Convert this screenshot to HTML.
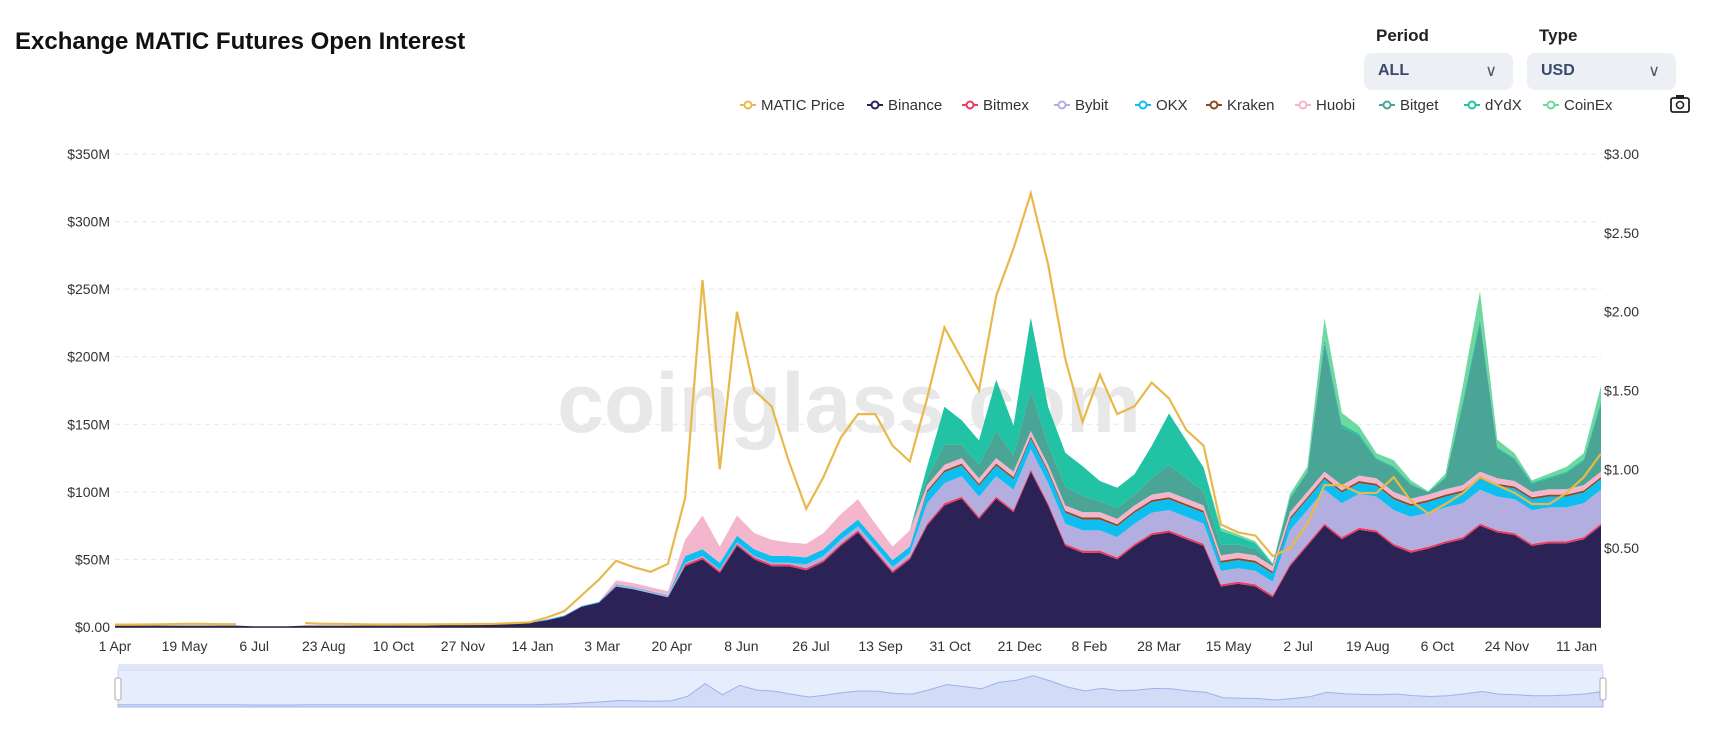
<!DOCTYPE html>
<html><head><meta charset="utf-8">
<style>
body{margin:0;width:1717px;height:756px;overflow:hidden;background:#fff;font-family:"Liberation Sans",sans-serif;position:relative}
.title{position:absolute;left:15px;top:28px;font-size:24px;font-weight:bold;color:#111}
.lbl{position:absolute;font-size:17px;font-weight:bold;color:#222}
.dd{position:absolute;top:53px;height:37px;width:149px;background:#eceff4;border-radius:8px;box-sizing:border-box;padding:9px 14px;font-size:16px;font-weight:bold;color:#3a4a6b}
.dd span{position:absolute;right:16px;top:8px;font-weight:normal;color:#555}
</style></head><body>
<div class="title">Exchange MATIC Futures Open Interest</div>
<div class="lbl" style="left:1376px;top:26px">Period</div>
<div class="lbl" style="left:1539px;top:26px">Type</div>
<div class="dd" style="left:1364px">ALL<span>∨</span></div>
<div class="dd" style="left:1527px">USD<span>∨</span></div>
<svg id="c" width="1717" height="756" style="position:absolute;left:0;top:0"></svg>
<script>
const seriesNames=["Binance","Bitmex","Bybit","OKX","Kraken","Huobi","Bitget","dYdX","CoinEx"];
const binance=[1,1,1,1,1,1,1,1,0.5,0.5,0.5,1,1,1,1,1,1,1,1,1.5,1.5,2,2,3,3,5,8,15,18,30,28,25,22,45,50,40,60,50,45,45,42,48,60,70,55,40,50,75,90,95,80,95,85,115,90,60,55,55,50,60,68,70,65,60,30,32,30,22,45,60,75,65,72,70,60,55,58,62,65,75,70,68,60,62,62,65,75];
const bitmex=[0,0,0,0,0,0,0,0,0,0,0,0,0,0,0,0,0,0,0,0,0,0,0,0,0,0,0,0,0,0,0,0,0,1.5,1.5,1.5,1.5,1.5,1.5,1.5,1.5,1.5,1.5,1.5,1.5,1.5,1.5,1.5,1.5,1.5,1.5,1.5,1.5,1.5,1.5,1.5,1.5,1.5,1.5,1.5,1.5,1.5,1.5,1.5,1.5,1.5,1.5,1.5,1.5,1.5,1.5,1.5,1.5,1.5,1.5,1.5,1.5,1.5,1.5,1.5,1.5,1.5,1.5,1.5,1.5,1.5,1.5];
const bybit=[0,0,0,0,0,0,0,0,0,0,0,0,0,0,0,0,0,0,0,0,0,0,0,0,0,0,0,0,0,1,1,1,1,1,1,1,1,1,1,1,3,3,3,3,3,3,3,15,15,15,15,15,15,15,15,15,15,15,15,15,15,15,15,15,10,10,10,10,25,25,25,25,25,25,25,25,25,25,25,25,25,25,25,25,25,25,25];
const okx=[0,0,0,0,0,0,0,0,0,0,0,0,0,0,0,0,0,0,0,0,0,0,0,0,0.5,0.5,0.5,0.5,0.5,0.5,0.5,0.5,0.5,5,5,5,5,5,5,5,5,5,5,5,5,5,5,8,8,8,8,8,8,8,8,8,8,8,8,8,8,8,8,8,6,6,6,6,8,8,8,8,8,8,8,8,8,8,8,8,8,8,8,8,8,8,8];
const kraken=[0,0,0,0,0,0,0,0,0,0,0,0,0,0,0,0,0,0,0,0,0,0,0,0,0,0,0,0,0,0,0,0,0,0,0,0,0,0,0,0,0,0,0,0,0,0,0,1.5,1.5,1.5,1.5,1.5,1.5,1.5,1.5,1.5,1.5,1.5,1.5,1.5,1.5,1.5,1.5,1.5,1.5,1.5,1.5,1.5,1.5,1.5,1.5,1.5,1.5,1.5,1.5,1.5,1.5,1.5,1.5,1.5,1.5,1.5,1.5,1.5,1.5,1.5,1.5];
const huobi=[0,0,0,0,0,0,0,0,0,0,0,0,0,0,0,0,0,0,0,0,0,0,0,0,0.2,0.2,0.2,0.2,0.2,3,3,3,3,12,25,12,15,12,12,10,10,12,14,15,12,10,12,4,4,4,4,4,4,4,4,4,4,4,4,4,4,4,4,4,4,4,4,4,4,4,4,4,4,4,4,4,4,4,4,4,4,4,4,4,4,4,4];
const bitget=[0,0,0,0,0,0,0,0,0,0,0,0,0,0,0,0,0,0,0,0,0,0,0,0,0,0,0,0,0,0,0,0,0,0,0,0,0,0,0,0,0,0,0,0,0,0,0,5,15,10,10,20,12,30,15,14,12,8,8,8,12,20,15,10,8,6,5,1,10,14,95,43,29,14,18,10,2,8,60,110,22,16,6,8,12,18,50];
const dydx=[0,0,0,0,0,0,0,0,0,0,0,0,0,0,0,0,0,0,0,0,0,0,0,0,0,0,0,0,0,0,0,0,0,0,0,0,0,0,0,0,0,0,0,0,0,0,0,8.5,28,18,18,38,22,54,28,25,22,15,15,15,24,38,28,18,10,6,4,1,1,1,3,2,2,1,1,1,0,1,2,3,1,1,1,1,1,1,2];
const coinex=[0,0,0,0,0,0,0,0,0,0,0,0,0,0,0,0,0,0,0,0,0,0,0,0,0,0,0,0,0,0,0,0,0,0,0,0,0,0,0,0,0,0,0,0,0,0,0,0,0,0,0,0,0,0,0,0,0,0,0,0,0,0,0,0,2.5,1.5,1.5,0,2.5,3.5,15.5,8.5,5.5,3.5,4.5,2.5,0.5,2.5,11.5,20.5,5.5,3.5,1.5,2.5,3.5,4.5,11.5];
const price=[0.015,0.015,0.016,0.018,0.02,0.02,0.018,0.018,null,null,null,0.025,0.02,0.02,0.018,0.016,0.016,0.017,0.017,0.018,0.018,0.019,0.02,0.025,0.03,0.06,0.1,0.2,0.3,0.42,0.38,0.35,0.4,0.82,2.2,1.0,2.0,1.5,1.4,1.05,0.75,0.95,1.2,1.35,1.35,1.15,1.05,1.45,1.9,1.7,1.5,2.1,2.4,2.75,2.3,1.7,1.3,1.6,1.35,1.4,1.55,1.45,1.25,1.15,0.65,0.6,0.58,0.45,0.5,0.65,0.9,0.9,0.85,0.85,0.95,0.8,0.72,0.78,0.85,0.95,0.9,0.85,0.78,0.78,0.85,0.95,1.1];
const leftTicks=["$0.00","$50M","$100M","$150M","$200M","$250M","$300M","$350M"];
const rightTicks=["$0.50","$1.00","$1.50","$2.00","$2.50","$3.00"];
const xLabels=["1 Apr","19 May","6 Jul","23 Aug","10 Oct","27 Nov","14 Jan","3 Mar","20 Apr","8 Jun","26 Jul","13 Sep","31 Oct","21 Dec","8 Feb","28 Mar","15 May","2 Jul","19 Aug","6 Oct","24 Nov","11 Jan"];
const colors=["#2b2356","#f0395f","#b3aee0","#0fbef0","#8c4b22","#f3b6cc","#4aa596","#22c3a5","#6fd89f"];
const STEP=12, TOTALDAYS=1032;
const X0=115,X1=1601,Y0=627,Y1=154;
const xs=d=>X0+d/TOTALDAYS*(X1-X0);
const yL=v=>Y0-v/350*(Y0-Y1);
const yR=v=>Y0-v/3*(Y0-Y1);
const svg=document.getElementById('c');
const NS="http://www.w3.org/2000/svg";
function mk(t,a){const e=document.createElementNS(NS,t);for(const k in a)e.setAttribute(k,a[k]);svg.appendChild(e);return e;}
for(let i=0;i<leftTicks.length;i++){const y=yL(i*50);
 if(i>0){const g=mk('line',{x1:X0,x2:X1,y1:y,y2:y,stroke:'#e6e6e6','stroke-dasharray':'5,4'});
 
 }
 const t=mk('text',{x:110,y:y+5,'text-anchor':'end','font-size':14,fill:'#333'});t.textContent=leftTicks[i];
 
 }
for(let i=0;i<rightTicks.length;i++){const y=yR((i+1)*0.5);
 const t=mk('text',{x:1604,y:y+5,'font-size':14,fill:'#333'});t.textContent=rightTicks[i];
 
 }
const wm=mk('text',{x:849,y:432,'text-anchor':'middle','font-size':84,'font-weight':'bold',fill:'#e8e8e8'});wm.textContent="coinglass.com";


const all=[binance,bitmex,bybit,okx,kraken,huobi,bitget,dydx,coinex];
const N=binance.length;let base=new Array(N).fill(0);
all.forEach((s,si)=>{const top=base.map((b,i)=>b+s[i]);
 let d='';for(let i=0;i<N;i++)d+=(i?'L':'M')+xs(i*STEP).toFixed(1)+','+yL(top[i]).toFixed(1);
 for(let i=N-1;i>=0;i--)d+='L'+xs(i*STEP).toFixed(1)+','+yL(base[i]).toFixed(1);
 const p=mk('path',{d:d+'Z',fill:colors[si],stroke:'none'});
 
 
 base=top;});
let pd='',pen=false;
for(let i=0;i<N;i++){if(price[i]==null){pen=false;continue;}pd+=(pen?'L':'M')+xs(i*STEP).toFixed(1)+','+yR(price[i]).toFixed(1);pen=true;}
const pl=mk('path',{d:pd,fill:'none',stroke:'#e9b84a','stroke-width':2.2});


mk('line',{x1:X0,x2:X1,y1:Y0+0.5,y2:Y0+0.5,stroke:'#555'});
xLabels.forEach((l,i)=>{const x=xs(i*1015/21);
 const t=mk('text',{x:x,y:651,'text-anchor':'middle','font-size':14,fill:'#333'});t.textContent=l;
 
 });
const nb=mk('rect',{x:118,y:670,width:1485,height:37,fill:'#e6edfc',stroke:'#c9d3ee'});


let nd='M118,707';const tot=binance.map((b,i)=>all.reduce((a,s)=>a+s[i],0));
for(let i=0;i<N;i++){nd+='L'+(118+i*STEP/TOTALDAYS*1485).toFixed(1)+','+(705-(price[i]==null?0:price[i])*9-tot[i]*0.02).toFixed(1);}
nd+='L1603,707Z';
const na=mk('path',{d:nd,fill:'#d2dcf7',stroke:'#9fb2ea','stroke-width':1});


mk('rect',{x:118,y:664,width:1485,height:6,fill:'#dfe6f6'});
[118,1603].forEach(x=>{const h=mk('rect',{x:x-3,y:678,width:6,height:22,rx:2,fill:'#fff',stroke:'#aaa'});
 
 });
const legNames=["MATIC Price"].concat(seriesNames);
const legCols=["#e9b84a"].concat(colors);
const legX=[748,875,970,1062,1143,1214,1303,1387,1472,1551];
legNames.forEach((n,i)=>{const x=legX[i];
 const g=document.createElementNS(NS,'g');svg.appendChild(g);
 
 
 const a=document.createElementNS(NS,'line');a.setAttribute('x1',x-8);a.setAttribute('x2',x+8);a.setAttribute('y1',105);a.setAttribute('y2',105);a.setAttribute('stroke',legCols[i]);a.setAttribute('stroke-width',2);g.appendChild(a);
 const c=document.createElementNS(NS,'circle');c.setAttribute('cx',x);c.setAttribute('cy',105);c.setAttribute('r',3.5);c.setAttribute('fill','#fff');c.setAttribute('stroke',legCols[i]);c.setAttribute('stroke-width',2);g.appendChild(c);
 const t=document.createElementNS(NS,'text');t.setAttribute('x',x+13);t.setAttribute('y',110);t.setAttribute('font-size',15);t.setAttribute('fill','#333');t.textContent=n;g.appendChild(t);});
const cam=mk('g',{});


cam.innerHTML='<rect x="1671" y="98" width="18" height="14" rx="2" fill="none" stroke="#222" stroke-width="1.8"/><rect x="1676" y="95" width="8" height="4" fill="#222"/><circle cx="1680" cy="105" r="3.5" fill="none" stroke="#222" stroke-width="1.6"/>';
</script>
</body></html>
